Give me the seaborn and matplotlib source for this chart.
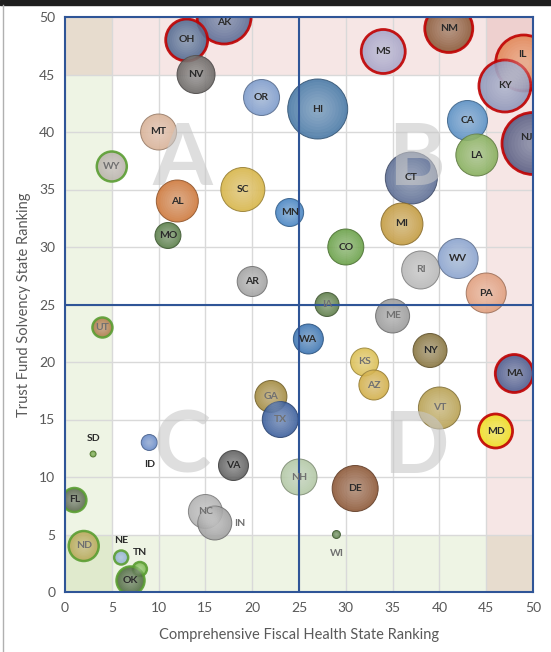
import numpy as np
import pandas as pd
import seaborn as sns
import matplotlib.pyplot as plt
from matplotlib.patches import Rectangle
from matplotlib.lines import Line2D
from matplotlib.colors import to_rgb

# data
states = ['AK', 'OH', 'NV', 'OR', 'HI', 'MT', 'WY', 'AL', 'SC', 'MS',
          'NM', 'IL', 'KY', 'CA', 'NJ', 'LA', 'CT', 'MN', 'MO', 'AR',
          'UT', 'WA', 'GA', 'TX', 'MI', 'CO', 'RI', 'WV', 'PA', 'IA',
          'ME', 'NY', 'KS', 'AZ', 'MA', 'VT', 'MD', 'NH', 'DE', 'WI',
          'SD', 'ID', 'VA', 'FL', 'NC', 'IN', 'ND', 'NE', 'TN', 'OK']
fiscal_rank = [17, 13, 14, 21, 27, 10, 5, 12, 19, 34,
               41, 49, 47, 43, 50, 44, 37, 24, 11, 20,
               4, 26, 22, 23, 36, 30, 38, 42, 45, 28,
               35, 39, 32, 33, 48, 40, 46, 25, 31, 29,
               3, 9, 18, 1, 15, 16, 2, 6, 8, 7]
solvency_rank = [50, 48, 45, 43, 42, 40, 37, 34, 35, 47,
                 49, 46, 44, 41, 39, 38, 36, 33, 31, 27,
                 23, 22, 17, 15, 32, 30, 28, 29, 26, 25,
                 24, 21, 20, 18, 19, 16, 14, 10, 9, 5,
                 12, 13, 11, 8, 7, 6, 4, 3, 2, 1]
bubble_radius = [27, 21, 19, 18, 30, 18, 15, 21, 22, 22,
                 24, 28, 26, 20, 31, 21, 26, 14, 13, 15,
                 10, 15, 16, 18, 21, 18, 19, 20, 20, 12,
                 17, 17, 14, 15, 19, 21, 17, 18, 23, 4,
                 3, 8, 15, 12, 17, 17, 15, 7, 7, 14]

red_ring = ['AK', 'OH', 'MS', 'NM', 'IL', 'KY', 'NJ', 'MA', 'MD']
green_ring = ['WY', 'UT', 'FL', 'ND', 'NE', 'TN', 'OK']
muted_labels = ['WY', 'IA', 'ME', 'RI', 'KS', 'AZ', 'GA', 'TX', 'VT',
                'NC', 'NH', 'ND', 'WI', 'IN', 'UT']
label_offsets = {'SD': (0, 11), 'ID': (0, -16), 'IN': (18, 0),
                 'NE': (0, 12), 'TN': (0, 12), 'WI': (0, -14),
                 'AK': (0, -4), 'NJ': (-5, 4), 'IL': (-1, 6)}

palette = {
    'AK': '#5d6d96', 'OH': '#536a90', 'NV': '#6e6a68', 'OR': '#7f9ccb',
    'HI': '#4b7aa6', 'MT': '#d9b398', 'WY': '#b9b4aa', 'AL': '#cf7a3e',
    'SC': '#d8b64a', 'MS': '#a9a6c8', 'NM': '#8c5a3a', 'IL': '#e2895a',
    'KY': '#8f97ba', 'CA': '#5c90c4', 'NJ': '#5a5e84', 'LA': '#88af5e',
    'CT': '#5f7096', 'MN': '#4a86c4', 'MO': '#5b7f4a', 'AR': '#a3a3a3',
    'UT': '#ae7a4a', 'WA': '#3f77b4', 'GA': '#a48c42', 'TX': '#3e619e',
    'MI': '#c49c42', 'CO': '#6ca24a', 'RI': '#b8b8b8', 'WV': '#8ca4cf',
    'PA': '#e0a080', 'IA': '#5f7e4b', 'ME': '#9c9c9c', 'NY': '#8a7742',
    'KS': '#dcc055', 'AZ': '#d3b04a', 'MA': '#4f5d8f', 'VT': '#baa254',
    'MD': '#f0de22', 'NH': '#b4c8a6', 'DE': '#8e5a3a', 'WI': '#5c8049',
    'SD': '#6aa03a', 'ID': '#6a8cc8', 'VA': '#606060', 'FL': '#5d6a52',
    'NC': '#b2b2b2', 'IN': '#a2a2a2', 'ND': '#b9a95a', 'NE': '#8fb1d2',
    'TN': '#7cbb50', 'OK': '#4f6b41',
}

df = pd.DataFrame({'state': states, 'fiscal': fiscal_rank,
                   'solvency': solvency_rank, 'radius': bubble_radius})
df['area'] = df['radius'] ** 2

plt.rcParams['font.family'] = ['Lato', 'DejaVu Sans']

fig = plt.figure(figsize=(5.51, 6.52), dpi=100)
ax = fig.add_axes([65 / 551, 60 / 652, 468 / 551, 575 / 652])

# bands
ax.axvspan(0, 5, color='#9bbb59', alpha=0.16, lw=0, zorder=0.1)
ax.axhspan(0, 5, color='#9bbb59', alpha=0.16, lw=0, zorder=0.1)
ax.axvspan(45, 50, color='#c0504d', alpha=0.14, lw=0, zorder=0.1)
ax.axhspan(45, 50, color='#c0504d', alpha=0.14, lw=0, zorder=0.1)

ax.set_axisbelow(True)
ax.grid(True, color='#d9d9d9', lw=1)

# px radius -> scatter size in pt^2
k = (2 * 72 / 100) ** 2
amax = df['area'].max()


def edge_of(s):
    if s in red_ring:
        return '#c00000'
    if s in green_ring:
        return '#5a9e32'
    return tuple(c * 0.7 for c in to_rgb(palette[s]))


edges = [edge_of(s) for s in states]
widths = [2.0 if s in red_ring else 1.8 if s in green_ring else 0.7 for s in states]

sns.scatterplot(data=df, x='fiscal', y='solvency', hue='state', palette=palette,
                size='area', sizes=(0, k * amax), size_norm=(0, amax),
                edgecolor=edges, linewidth=widths, alpha=0.9, legend=False,
                ax=ax, zorder=2)

# sphere shading: stacked soft highlights on the same points
for frac in [0.9, 0.8, 0.7, 0.6, 0.5, 0.4, 0.3, 0.2]:
    sns.scatterplot(data=df, x='fiscal', y='solvency', color='white',
                    size='area', sizes=(0, k * amax * frac ** 2), size_norm=(0, amax),
                    linewidth=0, alpha=0.045, legend=False, ax=ax, zorder=2.1)

ax.axvline(25, color='#2f5597', lw=1.5, zorder=3)
ax.axhline(25, color='#2f5597', lw=1.5, zorder=3)

# quadrant letters
for letter, (lx, ly) in zip(['A', 'B', 'C', 'D'],
                            [(12.5, 37.5), (37.5, 37.5), (12.5, 12.5), (37.5, 12.5)]):
    ax.text(lx, ly, letter, fontsize=62, fontweight='bold', color='#c8c8c8',
            alpha=0.6, ha='center', va='center', zorder=3.5)

for s, x, y in zip(states, fiscal_rank, solvency_rank):
    off = label_offsets.get(s, (0, 0))
    col = '#707070' if s in muted_labels else '#2a2a2a'
    ax.annotate(s, (x, y), xytext=off, textcoords='offset points',
                ha='center', va='center', fontsize=7.5, fontweight='bold',
                color=col, zorder=4)

ax.set_xlim(0, 50)
ax.set_ylim(0, 50)
ax.set_xticks(range(0, 51, 5))
ax.set_yticks(range(0, 51, 5))
ax.tick_params(length=0, labelsize=10, labelcolor='#595959', pad=7)
for sp in ax.spines.values():
    sp.set_color('#2f5597')
    sp.set_linewidth(1.5)
ax.set_xlabel('Comprehensive Fiscal Health State Ranking', fontsize=10.5,
              color='#595959', labelpad=10)
ax.set_ylabel('Trust Fund Solvency State Ranking', fontsize=10.5,
              color='#595959', labelpad=6)

# chart frame remnants
fig.patches.append(Rectangle((0, 1 - 5 / 652), 1, 5 / 652, transform=fig.transFigure,
                             color='#1e1e1e', zorder=0))
fig.lines.append(Line2D([3 / 551, 3 / 551], [0, 1 - 5 / 652], transform=fig.transFigure,
                        color='#b0b0b0', lw=1))

fig.savefig('out.png', dpi=100)
